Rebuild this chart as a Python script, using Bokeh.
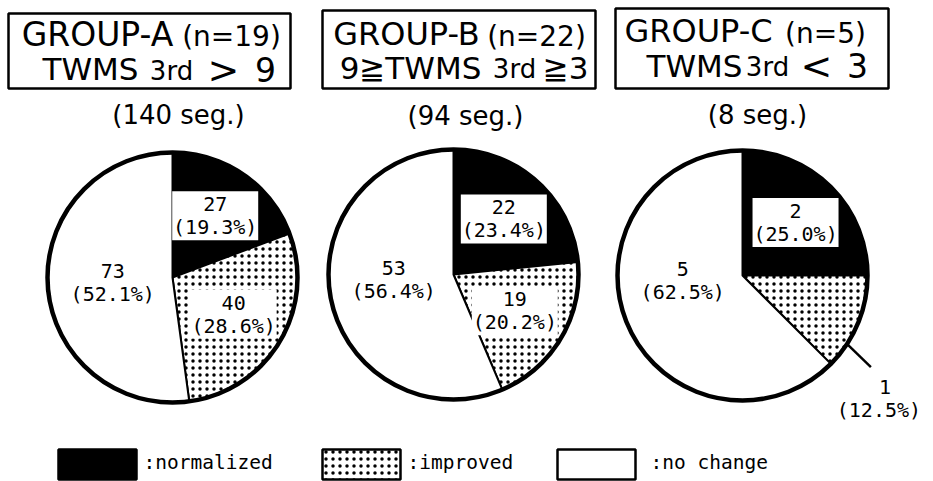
import math
from bokeh.plotting import figure
from bokeh.models import Range1d, ColumnDataSource
from bokeh.core.properties import value
from bokeh.embed import file_html
from bokeh.resources import INLINE

# ---------------- data ----------------
groups = ["GROUP-A", "GROUP-B", "GROUP-C"]
n_cases = [19, 22, 5]
segments = [140, 94, 8]
condition_parts = [["TWMS", "3rd", ">", "9"],
                   ["9≧TWMS", "3rd", "≧3"],
                   ["TWMS", "3rd", "<", "3"]]
categories = ["normalized", "improved", "no change"]
normalized = [27, 22, 2]
improved = [40, 19, 1]
no_change = [73, 53, 5]

# ---------------- layout (screen px of the reference) ----------------
W, H = 933, 481
def X(sx):
    return sx
def Y(sy):
    return H - sy

R = 125
centers = [(172, 277), (453, 274), (742, 275)]
title_boxes = [(8, 290, 13, 88), (322, 595, 10, 88), (615, 888, 8, 88)]
# (center x, visual center y, font px)
title1_layout = [[(97, 33.5, 33), (231, 36, 28)],
                 [(406, 33.5, 32), (536, 36, 28)],
                 [(698, 30, 32), (825, 33, 28)]]
title2_layout = [[(90, 68.5, 31), (171, 70, 26), (223, 69, 38), (265, 68.5, 33)],
                 [(410, 67, 31), (514, 68, 26), (565, 67, 31)],
                 [(694, 65, 31), (767, 66, 26), (816, 65, 38), (857, 65, 33)]]
subtitle_layout = [(178, 114), (465, 115), (757, 114)]

fills = {"normalized": "black", "improved": "white", "no change": "white"}
hatches = {"normalized": "blank", "improved": "dot", "no change": "blank"}

p = figure(width=W, height=H, x_range=Range1d(0, W), y_range=Range1d(0, H),
           output_backend="svg", toolbar_location=None,
           x_axis_type=None, y_axis_type=None, min_border=0)
p.outline_line_color = None
p.background_fill_color = "white"
p.border_fill_color = "white"

TITLE_FONT = value("DejaVu Sans")
MONO = value("DejaVu Sans Mono")

wx, wy, ws, we, wf, wh = [], [], [], [], [], []
box_x, box_y = [], []
lab_x, lab_y, lab_t = [], [], []

for gi in range(3):
    cx, cy = centers[gi]
    counts = [normalized[gi], improved[gi], no_change[gi]]
    total = sum(counts)
    cum = 0.0
    for ci, cat in enumerate(categories):
        a = cum / total
        b = (cum + counts[ci]) / total
        cum += counts[ci]
        wx.append(X(cx)); wy.append(Y(cy))
        ws.append(math.pi / 2 - 2 * math.pi * b)
        we.append(math.pi / 2 - 2 * math.pi * a)
        wf.append(fills[cat]); wh.append(hatches[cat])
        pct = 100.0 * counts[ci] / total
        t1 = f"{counts[ci]}"
        t2 = f"({pct:.1f}%)"
        mid = 2 * math.pi * (a + b) / 2
        if cat == "no change":
            ang = math.radians(265)
            d = 0.48 * R
        elif cat == "normalized":
            ang = mid
            d = 0.6 * R
        else:
            ang = mid
            d = 0.57 * R
        if cat == "improved" and pct < 15:
            # outside label with leader line
            ang = math.radians(122)
            sx0 = cx + 0.9 * R * math.sin(ang)
            sy0 = cy - 0.9 * R * math.cos(ang)
            sx1, sy1 = sx0 + 33, sy0 + 32
            p.line([X(sx0), X(sx1)], [Y(sy0), Y(sy1)], line_color="black", line_width=2.5)
            lab_x += [X(sx1 + 14), X(sx1 + 8)]
            lab_y += [Y(sy1 + 20), Y(sy1 + 43)]
            lab_t += [t1, t2]
            continue
        lx = cx + d * math.sin(ang)
        ly = cy - d * math.cos(ang)
        if cat != "no change":
            box_x.append(X(lx)); box_y.append(Y(ly))
        lab_x += [X(lx), X(lx)]
        lab_y += [Y(ly - 11.5), Y(ly + 11.5)]
        lab_t += [t1, t2]

src = ColumnDataSource(dict(x=wx, y=wy, s=ws, e=we, f=wf, h=wh))
p.wedge(x="x", y="y", radius=R, start_angle="s", end_angle="e",
        direction="anticlock", fill_color="f", line_color="black", line_width=2,
        hatch_pattern="h", hatch_color="black", hatch_scale=7, source=src)

# outer rims
p.circle(x=[X(c[0]) for c in centers], y=[Y(c[1]) for c in centers], radius=R,
         fill_color=None, line_color="black", line_width=4.5)

# label boxes
p.rect(x=box_x, y=box_y, width=86, height=49, fill_color="white", line_color=None)
p.text(x=lab_x, y=lab_y, text=lab_t, text_font=MONO, text_font_size="20px",
       text_align="center", text_baseline="middle", text_color="black")

# titles
for gi in range(3):
    l, r, t, b = title_boxes[gi]
    p.quad(left=X(l), right=X(r), top=Y(t), bottom=Y(b), fill_color="white",
           line_color="black", line_width=2.5)
    parts1 = [groups[gi], f"(n={n_cases[gi]})"]
    for txt, (sx, sy, fs) in zip(parts1, title1_layout[gi]):
        p.text(x=[X(sx)], y=[Y(sy)], text=[txt], text_font=TITLE_FONT,
               text_font_size=f"{fs}px", text_align="center",
               text_baseline="middle", text_color="black")
    for txt, (sx, sy, fs) in zip(condition_parts[gi], title2_layout[gi]):
        p.text(x=[X(sx)], y=[Y(sy)], text=[txt], text_font=TITLE_FONT,
               text_font_size=f"{fs}px", text_align="center",
               text_baseline="middle", text_color="black")
    sx, sy = subtitle_layout[gi]
    p.text(x=[X(sx)], y=[Y(sy)], text=[f"({segments[gi]} seg.)"], text_font=TITLE_FONT,
           text_font_size="26px", text_align="center",
           text_baseline="middle", text_color="black")

# legend
leg_boxes = [(58, 136), (322, 400), (557, 635)]
leg_text_x = [143, 407, 650]
leg_top, leg_bot = 449, 479
for ci, cat in enumerate(categories):
    l, r = leg_boxes[ci]
    p.quad(left=X(l), right=X(r), top=Y(leg_top), bottom=Y(leg_bot),
           fill_color=fills[cat], line_color="black", line_width=2.5,
           hatch_pattern=hatches[cat], hatch_color="black", hatch_scale=7)
    p.text(x=[X(leg_text_x[ci])], y=[Y(462)], text=[":" + cat], text_font=MONO,
           text_font_size="19.5px", text_align="left", text_baseline="middle",
           text_color="black")

open("out.html", "w").write(file_html(p, INLINE))
